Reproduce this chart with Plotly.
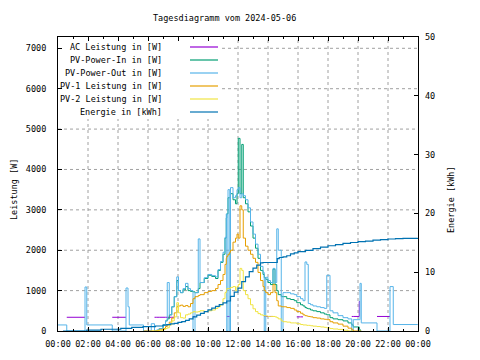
import plotly.graph_objects as go

DAY = "2024-05-06"
NEXT_DAY = "2024-05-07"

# ---- power series (W), shared time axis ----
times = ["00:00", "00:35", "01:48", "01:55", "03:37", "04:32", "04:40", "04:45", "05:42", "06:13",
         "06:26", "06:35", "06:45", "07:00", "07:10", "07:17", "07:25", "07:35", "07:45", "07:55",
         "08:02", "08:10", "08:20", "08:30", "08:40", "08:50", "09:00", "09:08", "09:21", "09:28",
         "09:45", "10:00", "10:15", "10:30", "10:40", "10:50", "11:00", "11:08", "11:13", "11:15",
         "11:20", "11:27", "11:30", "11:40", "11:50", "11:56", "12:01", "12:08", "12:15", "12:21",
         "12:30", "12:40", "12:50", "13:00", "13:10", "13:20", "13:30", "13:40", "13:45", "13:51",
         "14:00", "14:10", "14:20", "14:28", "14:35", "14:41", "14:53", "15:00", "15:15", "15:30",
         "15:45", "15:55", "16:10", "16:20", "16:28", "16:35", "16:41", "16:50", "17:00", "17:15",
         "17:30", "17:45", "17:55", "18:08", "18:20", "18:40", "19:00", "19:20", "19:35", "19:41",
         "20:05", "20:08", "20:13", "21:16", "22:08", "22:21", "23:59"]

# AC power: only the parts not hidden under PV-Power-Out are given
ac_power = [None, 340, 340, None, 340, 340, None, None, None, None,
            340, 340, 340, 340, 340, 340, 340, 340, 340, None,
            None, None, None, None, None, None, 360, 360, None, None,
            None, None, None, None, None, None, None, None, None, 360,
            360, 360, 360, None, None, None, None, None, None, None,
            None, None, None, None, None, None, None, None, 360, 360,
            360, 360, 360, None, None, None, None, None, None, None,
            None, 350, 350, 350, None, None, None, None, None, None,
            None, None, None, None, None, None, None, None, 360, 360,
            730, 730, None, 360, 360, None, None]

pv_power_in = [None, None, None, None, None, None, None, None, None, None,
               0, 20, 60, 150, 250, 300, 400, 600, 850, 1250,
               1000, 950, 1020, 1100, 1000, 980, 970, 950, 1050, 1200,
               1300, 1380, 1350, 1300, 1500, 1700, 1900, 2300, 2800, 2900,
               3300, 3300, 3400, 3250, 3150, 3400, 4770, 3400, 4620, 3300,
               3150, 2950, 2600, 2300, 2050, 1800, 1500, 1400, 1320, 1280,
               1200, 1150, 1530, 1150, 1000, 900, 850, 850, 800, 780,
               750, 700, 650, 620, 580, 560, 550, 520, 500, 480,
               450, 420, 400, 330, 300, 280, 250, 200, 150, 100,
               50, 0, 0, None, None, None, None]

pv_power_out = [150, 0, 1090, 150, 0, 1065, 600, 150, 0, 180,
                0, 20, 60, 150, 250, 1200, 400, 600, 850, 1340,
                1000, 950, 1050, 1180, 1050, 1000, 0, 950, 2280, 1200,
                1320, 1400, 1370, 1340, 1520, 1720, 1950, 2320, 2900, 0,
                3500, 0, 3550, 3300, 3350, 3500, 3550, 3300, 3400, 3350,
                3250, 3050, 2700, 2400, 2150, 1900, 1600, 1450, 0, 1330,
                1250, 1200, 1550, 1200, 2530, 2000, 0, 950, 950, 920,
                900, 850, 800, 750, 1710, 1650, 680, 650, 620, 600,
                580, 560, 1380, 500, 450, 380, 330, 300, 0, 280,
                280, 1180, 200, 0, 1100, 160, 160]

pv1_power = [None, None, None, None, None, None, None, None, 0, 0,
             0, 10, 30, 60, 110, 150, 220, 320, 450, 600,
             620, 640, 610, 630, 600, 680, 800, 850, 880, 900,
             950, 980, 1000, 1050, 1150, 1250, 1400, 1650, 1800, 1850,
             1900, 1950, 2000, 2200, 2300, 2400, 2300, 3100, 3000, 2300,
             2100, 2000, 1900, 1800, 1700, 1450, 1250, 1100, 1000, 950,
             900, 950, 1150, 950, 750, 620, 600, 600, 580, 560,
             520, 480, 440, 400, 380, 370, 360, 350, 330, 320,
             300, 290, 280, 230, 200, 170, 120, 70, 30, 0,
             0, 0, 0, None, None, None, None]

pv2_power = [None, None, None, None, None, None, None, None, None, 0,
             0, 0, 20, 40, 60, 80, 150, 250, 350, 700,
             450, 330, 320, 400, 420, 450, 480, 470, 480, 500,
             480, 500, 520, 560, 600, 650, 800, 950, 1000, 1050,
             1050, 1050, 1080, 1100, 1000, 1100, 1150, 1550, 1500, 1000,
             900, 800, 650, 550, 480, 430, 400, 380, 380, 370,
             360, 360, 360, 350, 330, 300, 250, 230, 220, 200,
             200, 180, 160, 150, 150, 140, 140, 130, 120, 110,
             100, 90, 80, 60, 50, 40, 20, 0, 0, 0,
             None, None, None, None, None, None, None]

# ---- energy (kWh) ----
energy_times = ["00:20", "01:55", "02:52", "04:11", "04:55", "05:40", "06:30", "07:00", "07:15", "07:30",
                "07:45", "08:00", "08:15", "08:30", "08:45", "09:00", "09:15", "09:30", "09:45", "10:00",
                "10:15", "10:30", "10:45", "11:00", "11:15", "11:30", "11:45", "12:00", "12:15", "12:30",
                "12:45", "13:00", "13:15", "13:30", "13:40", "14:37", "14:45", "15:00", "15:15", "15:30",
                "15:45", "16:00", "16:30", "17:00", "17:30", "18:00", "18:30", "19:00", "19:30", "20:00",
                "20:30", "21:00", "21:30", "22:00", "22:30", "23:00", "23:59"]
energy = [0.0, 0.15, 0.3, 0.45, 0.6, 0.75, 0.85, 1.0, 1.1, 1.2,
          1.3, 1.45, 1.6, 1.8, 2.05, 2.4, 2.7, 3.0, 3.3, 3.6,
          3.9, 4.2, 4.5, 4.8, 5.1, 5.9, 6.6, 7.3, 8.4, 9.2,
          10.1, 10.7, 11.2, 11.6, 11.65, 12.3, 12.5, 12.6, 12.8, 13.1,
          13.3, 13.5, 13.7, 14.0, 14.25, 14.5, 14.7, 14.9, 15.05, 15.2,
          15.3, 15.45, 15.55, 15.65, 15.7, 15.75, 15.8]

series_names = ["AC Leistung in [W]", "PV-Power-In in [W]", "PV-Power-Out in [W]",
                "PV-1 Leistung in [W]", "PV-2 Leistung in [W]", "Energie in [kWh]"]
colors = ["#9400D3", "#009E73", "#56B4E9", "#E69F00", "#F0E442", "#0072B2"]

x_ticks_h = list(range(2, 24, 2))
y_grid_w = [1000, 2000, 3000, 4000, 5000, 6000, 7000]

x = [f"{DAY} {t}" for t in times]
ex = [f"{DAY} {t}" for t in energy_times]

fig = go.Figure()
for vals, col in zip([ac_power, pv_power_in, pv_power_out, pv1_power, pv2_power], colors[:5]):
    fig.add_trace(go.Scatter(x=x, y=vals, mode="lines", line=dict(color=col, width=1, shape="hv"),
                             hoverinfo="skip", showlegend=False, connectgaps=False))
fig.add_trace(go.Scatter(x=ex, y=energy, yaxis="y2", mode="lines",
                         line=dict(color=colors[5], width=1.2, shape="hv"),
                         hoverinfo="skip", showlegend=False))

# page coordinates of the plot area (the page body has an 8px margin)
OFF = 8
L, R, T, B = 58, 418, 37, 331
W_, H_ = R - L, B - T
def px(xp): return (xp - L) / W_
def py(yp): return (B - yp) / H_

FIG_W, FIG_H = 480 - OFF, 360 - OFF
fig.update_layout(
    width=FIG_W, height=FIG_H,
    margin=dict(l=L - OFF, r=FIG_W - (R - OFF), t=T - OFF, b=FIG_H - (B - OFF), autoexpand=False),
    paper_bgcolor="white", plot_bgcolor="white",
    font=dict(family="DejaVu Sans Mono", size=8.5, color="black"),
    xaxis=dict(type="date", range=[f"{DAY} 00:00", f"{NEXT_DAY} 00:00"],
               tick0=f"{DAY} 00:00", dtick=7200000, tickformat="%H:%M",
               ticks="inside", ticklen=4, tickcolor="black",
               showline=True, linecolor="black", linewidth=1, mirror="ticks",
               minor=dict(ticks="inside", ticklen=2, dtick=3600000, tickcolor="black", showgrid=False),
               zeroline=False, showgrid=False, ticklabelstandoff=5),
    yaxis=dict(range=[0, 7280], tick0=0, dtick=1000, ticks="inside", ticklen=4, tickcolor="black",
               showline=True, linecolor="black", linewidth=1, mirror=True,
               zeroline=False, showgrid=False, ticklabelstandoff=9),
    yaxis2=dict(overlaying="y", side="right", range=[0, 50], tick0=0, dtick=10,
                ticks="inside", ticklen=4, tickcolor="black", showgrid=False,
                zeroline=False, showline=False, ticklabelstandoff=6),
)

# grid (dashed), interrupted by the opaque key box in the upper left
KEY_RIGHT, KEY_BOTTOM = 222, 119
gline = dict(color="#a0a0a0", width=1, dash="3px,3px")
shapes = []
for h in x_ticks_h:
    xpage = L + h * W_ / 24
    top = py(KEY_BOTTOM) if xpage < KEY_RIGHT else 1
    shapes.append(dict(type="line", xref="x", yref="paper", x0=f"{DAY} {h:02d}:00", x1=f"{DAY} {h:02d}:00",
                       y0=0, y1=top, line=gline, layer="below"))
for w in y_grid_w:
    ypage = B - w * H_ / 7280
    left = px(KEY_RIGHT) if ypage < KEY_BOTTOM else 0
    shapes.append(dict(type="line", xref="paper", yref="y", x0=left, x1=1, y0=w, y1=w,
                       line=gline, layer="below"))

annotations = []
rows_y = [47, 60, 73, 86, 99, 112]
for name, col, ry in zip(series_names, colors, rows_y):
    annotations.append(dict(text=name, xref="paper", yref="paper", x=px(164), y=py(ry),
                            xanchor="right", yanchor="middle", showarrow=False))
    shapes.append(dict(type="line", xref="paper", yref="paper", x0=px(190), x1=px(218),
                       y0=py(ry), y1=py(ry), line=dict(color=col, width=1.2)))

annotations.append(dict(text="Tagesdiagramm vom 2024-05-06", xref="paper", yref="paper",
                        x=px(224), y=py(18), xanchor="center", yanchor="middle", showarrow=False))
annotations.append(dict(text="Leistung [W]", xref="paper", yref="paper", x=px(14), y=py(190),
                        textangle=-90, xanchor="center", yanchor="middle", showarrow=False))
annotations.append(dict(text="Energie [kWh]", xref="paper", yref="paper", x=px(451), y=py(199),
                        textangle=-90, xanchor="center", yanchor="middle", showarrow=False))
fig.update_layout(shapes=shapes, annotations=annotations)

fig.write_html("out.html")
